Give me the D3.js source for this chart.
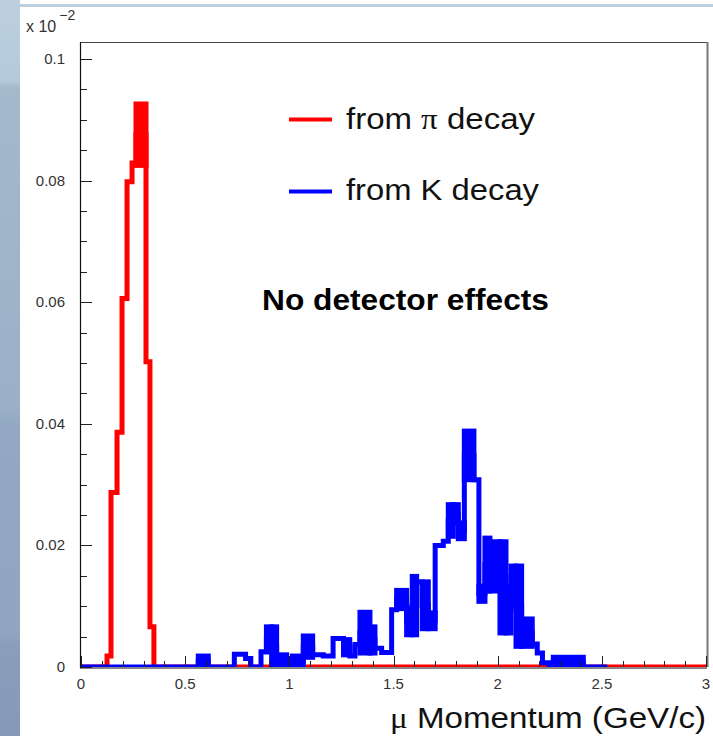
<!DOCTYPE html>
<html><head><meta charset="utf-8">
<script src="https://cdn.jsdelivr.net/npm/d3@7"></script>
<style>
body{margin:0;background:#fff;}
svg{display:block;font-family:"Liberation Sans",Arial,sans-serif;}
</style>
</head><body><svg id="c" width="713" height="736"></svg>
<script>
// ---- data: muon momentum histograms (bin edges, lower / upper level of each bin) ----
const piEdges = [0, 0.125, 0.144, 0.173, 0.197, 0.221, 0.245, 0.264, 0.312, 0.331, 0.35, 3.0];
const piLow   = [0, 0.0018, 0.0287, 0.0386, 0.0606, 0.0798, 0.0829, 0.0825, 0.0502, 0.0066, 0];
const piHigh  = [0, 0.0018, 0.0287, 0.0386, 0.0606, 0.0798, 0.0829, 0.0926, 0.0502, 0.0066, 0];

const kEdges = [0, 0.563, 0.611, 0.736, 0.79, 0.815, 0.864, 0.89, 0.915, 0.939, 0.987,
  1.015, 1.067, 1.112, 1.163, 1.21, 1.26, 1.29, 1.315, 1.339, 1.387, 1.411, 1.443, 1.491,
  1.515, 1.563, 1.59, 1.611, 1.638, 1.667, 1.7, 1.739, 1.763, 1.787, 1.811, 1.84, 1.886,
  1.91, 1.939, 1.963, 2.011, 2.04, 2.064, 2.088, 2.115, 2.166, 2.19, 2.215, 2.245, 2.267,
  2.411, 2.526];
const kLow = [0, 0, 0, 0.0021, 0.0014, 0, 0.0025, 0.0025, 0, 0, 0,
  0, 0.0016, 0.002, 0.0018, 0.0047, 0.002, 0.0018, 0.0037, 0.0023, 0.0023, 0.0031, 0.0024,
  0.0094, 0.0096, 0.0053, 0.0053, 0.014, 0.0063, 0.0063, 0.020, 0.0207, 0.0215, 0.0237,
  0.0211, 0.0308, 0.0308, 0.0108, 0.0125, 0.0125, 0.0056, 0.0056, 0.013, 0.0034, 0.0034,
  0.0038, 0.0023, 0.0007, 0, 0, 0];
const kHigh = [0, 0.0018, 0, 0.0021, 0.0014, 0, 0.0025, 0.0066, 0.0066, 0.002, 0,
  0.0018, 0.0051, 0.002, 0.0018, 0.0047, 0.0045, 0.0018, 0.0037, 0.009, 0.0066, 0.0031, 0.0024,
  0.0094, 0.0126, 0.0097, 0.0149, 0.014, 0.014, 0.0089, 0.020, 0.0207, 0.0267, 0.0267,
  0.0237, 0.0388, 0.0308, 0.0133, 0.0212, 0.0206, 0.0206, 0.013, 0.0166, 0.0166, 0.0079,
  0.0038, 0.0023, 0.0007, 0, 0.0016, 0];

const xTicks = [0, 0.5, 1, 1.5, 2, 2.5, 3];
const xMinor = d3.range(0, 3.0001, 0.1);
const yTicks = [0, 0.02, 0.04, 0.06, 0.08, 0.1];
const yMinor = d3.range(0, 0.1001, 0.005);
const legendLabels = [["from ", "π", " decay"], ["from K decay"]];
const seriesColors = ["#ff0000", "#0000ff"];

// ---- layout ----
const svg = d3.select("#c");
const L = 81, R = 707, T = 42, B = 667;
const x = d3.scaleLinear().domain([0, 3]).range([L, 706]);
const y = d3.scaleLinear().domain([0, 0.1]).range([B, 59]);
const LW = 5;

// slide decorations
const defs = svg.append("defs");
const g = defs.append("linearGradient").attr("id", "side").attr("x1", 0).attr("y1", 0).attr("x2", 0).attr("y2", 1);
[[0, "#bcd0df"], [0.11, "#b4c9da"], [0.12, "#a3bacd"], [0.55, "#99b0c7"], [0.58, "#93a9c3"], [0.86, "#8fa5c0"], [0.88, "#8a9dbb"], [1, "#8799b8"]]
  .forEach(s => g.append("stop").attr("offset", s[0]).attr("stop-color", s[1]));
svg.append("rect").attr("x", 0).attr("y", 0).attr("width", 20).attr("height", 736).attr("fill", "url(#side)");
svg.append("rect").attr("x", 20).attr("y", 4).attr("width", 693).attr("height", 3).attr("fill", "#bcd0e0");

defs.append("clipPath").attr("id", "plot").append("rect")
  .attr("x", L).attr("y", T).attr("width", R - L).attr("height", B - T);

const plot = svg.append("g").attr("clip-path", "url(#plot)");

function drawHist(edges, lo, hi, color) {
  const pts = lo.map((v, i) => [edges[i], (v + hi[i]) / 2]);
  pts.push([edges[edges.length - 1], pts[pts.length - 1][1]]);
  const line = d3.line().x(d => x(d[0])).y(d => y(d[1])).curve(d3.curveStepAfter);
  plot.append("path").attr("d", line(pts)).attr("fill", "none")
    .attr("stroke", color).attr("stroke-width", LW).attr("stroke-linejoin", "miter");
  const bands = lo.map((v, i) => ({x0: edges[i], x1: edges[i + 1], lo: v, hi: hi[i]})).filter(b => b.hi > b.lo);
  plot.selectAll(null).data(bands).enter().append("rect")
    .attr("x", d => x(d.x0)).attr("width", d => x(d.x1) - x(d.x0))
    .attr("y", d => y(d.hi)).attr("height", d => y(d.lo) - y(d.hi))
    .attr("fill", color).attr("stroke", color).attr("stroke-width", LW);
}
drawHist(piEdges, piLow, piHigh, seriesColors[0]);
drawHist(kEdges, kLow, kHigh, seriesColors[1]);

// frame
svg.append("line").attr("x1", L).attr("x2", R).attr("y1", T + 0.5).attr("y2", T + 0.5).attr("stroke", "#444").attr("stroke-width", 1);
svg.append("line").attr("x1", R + 0.5).attr("x2", R + 0.5).attr("y1", T).attr("y2", B).attr("stroke", "#777").attr("stroke-width", 2);
svg.append("line").attr("x1", L - 0.5).attr("x2", L - 0.5).attr("y1", T).attr("y2", B + 1).attr("stroke", "#111").attr("stroke-width", 1.2);
svg.append("line").attr("x1", L - 1).attr("x2", R).attr("y1", B + 1).attr("y2", B + 1).attr("stroke", "#111").attr("stroke-width", 1.2);

// y ticks (inside)
const ya = svg.append("g");
ya.selectAll(null).data(yMinor).enter().append("line")
  .attr("x1", L).attr("x2", d => L + (yTicks.some(t => Math.abs(t - d) < 1e-9) ? 11 : 6))
  .attr("y1", d => Math.round(y(d)) + 0.5).attr("y2", d => Math.round(y(d)) + 0.5)
  .attr("stroke", "#222").attr("stroke-width", 1);
ya.selectAll(null).data(yTicks).enter().append("text")
  .attr("x", 65).attr("y", d => y(d) + 5).attr("text-anchor", "end")
  .attr("font-size", 15).attr("fill", "#333").text(d => d3.format("~g")(d));

// x ticks (inside)
const xa = svg.append("g");
xa.selectAll(null).data(xMinor).enter().append("line")
  .attr("x1", d => Math.round(x(d)) + 0.5).attr("x2", d => Math.round(x(d)) + 0.5)
  .attr("y1", B).attr("y2", d => B - (xTicks.some(t => Math.abs(t - d) < 1e-9) ? 11 : 6))
  .attr("stroke", "#222").attr("stroke-width", 1);
xa.selectAll(null).data(xTicks).enter().append("text")
  .attr("x", d => x(d)).attr("y", 689).attr("text-anchor", "middle")
  .attr("font-size", 15).attr("fill", "#333").text(d => d3.format("~g")(d));

// exponent
const ex = svg.append("text").attr("x", 26).attr("y", 32).attr("font-size", 16).attr("fill", "#333");
ex.append("tspan").text("x 10");
ex.append("tspan").attr("dy", -12).attr("dx", 3).attr("font-size", 14).text("\u22122");

// axis title
const xt = svg.append("text").attr("x", 390).attr("y", 728).attr("font-size", 29).attr("fill", "#111")
  .attr("textLength", 316).attr("lengthAdjust", "spacingAndGlyphs");
xt.append("tspan").attr("font-family", "Liberation Serif").text("μ");
xt.append("tspan").text(" Momentum (GeV/c)");

// legend
const legY = [119.5, 191.5], legTxtY = [129, 200], legW = [189, 193];
legendLabels.forEach((parts, i) => {
  svg.append("line").attr("x1", 289).attr("x2", 332).attr("y1", legY[i]).attr("y2", legY[i])
    .attr("stroke", seriesColors[i]).attr("stroke-width", 4);
  const t = svg.append("text").attr("x", 346).attr("y", legTxtY[i]).attr("font-size", 29).attr("fill", "#111")
    .attr("textLength", legW[i]).attr("lengthAdjust", "spacingAndGlyphs");
  parts.forEach(p => {
    const s = t.append("tspan").text(p);
    if (p === "π") s.attr("font-family", "Liberation Serif");
  });
});

svg.append("text").attr("x", 262).attr("y", 310).attr("font-size", 30).attr("font-weight", "bold")
  .attr("fill", "#000").attr("textLength", 287).attr("lengthAdjust", "spacingAndGlyphs")
  .text("No detector effects");
</script>
</body></html>
